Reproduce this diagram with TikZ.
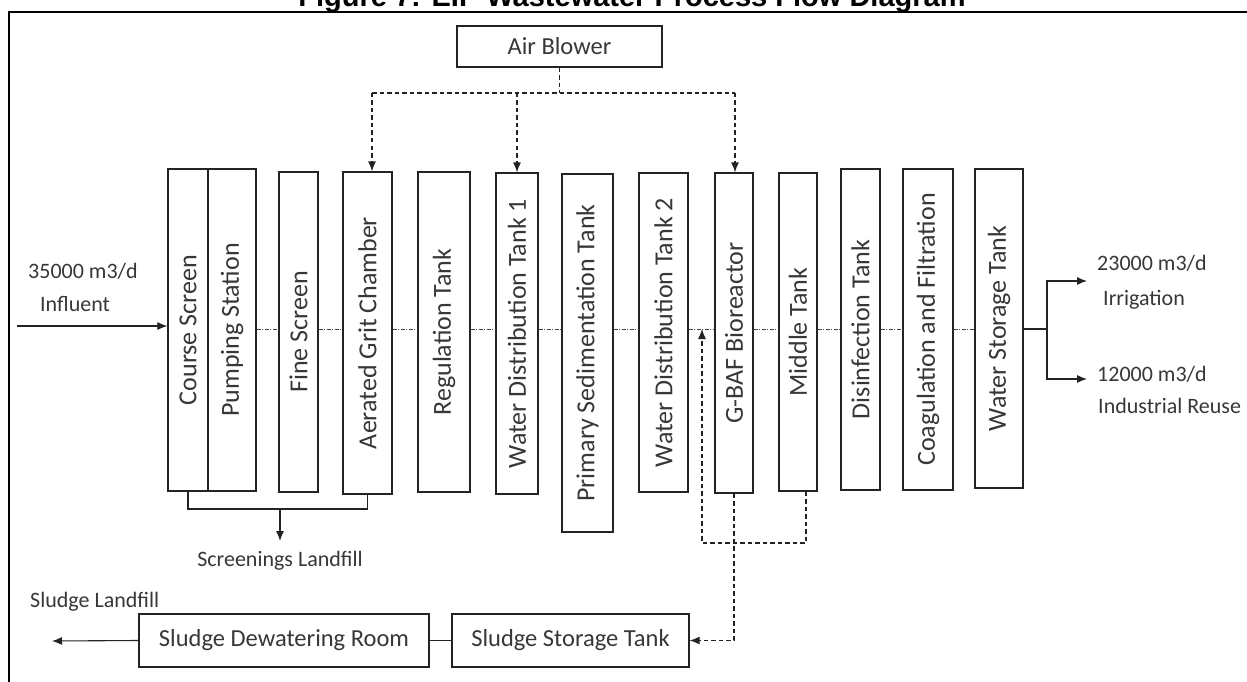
\documentclass[tikz,border=0pt]{standalone}
\usepackage{fontspec}
\setmainfont{Carlito}
\newfontfamily\headfont{Liberation Sans}
\usetikzlibrary{arrows.meta}
\definecolor{ink}{RGB}{35,35,35}
\definecolor{txt}{RGB}{55,55,55}
\begin{document}
\begin{tikzpicture}[x=1pt,y=-1pt,
  tank/.style={draw=ink, line width=1.2pt, inner sep=0pt, text=txt, font=\fontsize{26}{30}\selectfont},
  unit/.style={draw=ink, line width=1.2pt, inner sep=0pt, text=txt, font=\fontsize{24.5}{28}\selectfont},
  free/.style={text=txt, inner sep=0pt, font=\fontsize{22}{26}\selectfont},
  flow/.style={draw=ink!85, line width=1pt, dash pattern=on 4pt off 1.5pt on 1pt off 1.5pt},
  pipe/.style={draw=ink, line width=1.1pt},
  air/.style={draw=ink, line width=1.2pt, dash pattern=on 4.5pt off 3pt},
  tip/.style={-{Latex[length=10pt,width=8pt]}},
]
\useasboundingbox (0,0) rectangle (1247,682);
\clip (0,0) rectangle (1247,682);
\fill[white] (0,0) rectangle (1247,682);

% heading, partly outside the page
\node[anchor=base, inner sep=0pt, font=\headfont\bfseries\fontsize{29}{32}\selectfont] (title) at (632,7) {Figure 7: EIP Wastewater Process Flow Diagram};
% frame
\draw[line width=2pt] (9,720) -- (9,12) -- (1280,12);

% treatment units
\node[tank, minimum width=40pt, minimum height=322pt] (cs)  at (188,330)   {\rotatebox{90}{Course Screen}};
\node[tank, minimum width=48pt, minimum height=322pt] (ps)  at (232,330)   {\rotatebox{90}{Pumping Station}};
\node[tank, minimum width=39pt, minimum height=320pt] (fs)  at (298.5,332) {\rotatebox{90}{Fine Screen}};
\node[tank, minimum width=49pt, minimum height=322pt] (ag)  at (367.5,333) {\rotatebox{90}{Aerated Grit Chamber}};
\node[tank, minimum width=52pt, minimum height=320pt] (rt)  at (444,332)   {\rotatebox{90}{Regulation Tank}};
\node[tank, minimum width=42pt, minimum height=321pt] (wd1) at (517,333.5) {\rotatebox{90}{Water Distribution Tank 1}};
\node[tank, minimum width=51pt, minimum height=358pt] (pst) at (587.5,353) {\rotatebox{90}{Primary Sedimentation Tank}};
\node[tank, minimum width=49pt, minimum height=319pt] (wd2) at (663.5,332.5) {\rotatebox{90}{Water Distribution Tank 2}};
\node[tank, minimum width=38pt, minimum height=320pt] (gb)  at (734,333)   {\rotatebox{90}{G-BAF Bioreactor}};
\node[tank, minimum width=38pt, minimum height=318pt] (mt)  at (798,332)   {\rotatebox{90}{Middle Tank}};
\node[tank, minimum width=39pt, minimum height=321pt] (dt)  at (860.5,329.5) {\rotatebox{90}{Disinfection Tank}};
\node[tank, minimum width=50pt, minimum height=321pt] (cf)  at (928,329.5) {\rotatebox{90}{Coagulation and Filtration}};
\node[tank, minimum width=48pt, minimum height=319pt] (ws)  at (999,328.5) {\rotatebox{90}{Water Storage Tank}};

\node[unit, minimum width=205pt, minimum height=41pt] (ab)  at (559.5,46.5) {Air Blower};
\node[unit, minimum width=290pt, minimum height=53pt] (sdr) at (284,640.5)  {Sludge Dewatering Room};
\node[unit, minimum width=237pt, minimum height=53pt] (sst) at (570.5,640.5) {Sludge Storage Tank};

% free labels
\node[free, anchor=base west] (qin)  at (28,278)   {35000 m3/d};
\node[free, anchor=base west] (lin)  at (40,311)   {Influent};
\node[free, anchor=base west] (qirr) at (1097,270) {23000 m3/d};
\node[free, anchor=base west] (lirr) at (1103,305) {Irrigation};
\node[free, anchor=base west] (qind) at (1097,381) {12000 m3/d};
\node[free, anchor=base west] (lind) at (1098,413) {Industrial Reuse};
\node[free, anchor=base]      (scr)  at (280,566)  {Screenings Landfill};
\node[free, anchor=base west] (sl)   at (30,607)   {Sludge Landfill};

% helper points
\coordinate (main)  at (0,329);
\coordinate (inlet) at (17,326);
\coordinate (split) at (1047,329);
\coordinate (irr)   at (1087,281);
\coordinate (ind)   at (1087,379);
\coordinate (brk)   at (280,509);
\coordinate (scrtip) at (280,541);
\coordinate (busL)  at (372,93);
\coordinate (busR)  at (735,93);
\coordinate (rcR)   at (806,543);
\coordinate (rcL)   at (702,543);
\coordinate (sltip) at (52,641);

% influent
\draw[pipe, tip] (inlet) -- (cs.west |- inlet);

% main water line
\draw[flow] (ps.east |- main) -- (fs.west |- main);
\draw[flow] (fs.east |- main) -- (ag.west |- main);
\draw[flow] (ag.east |- main) -- (rt.west |- main);
\draw[flow] (rt.east |- main) -- (wd1.west |- main);
\draw[flow] (wd1.east |- main) -- (pst.west |- main);
\draw[flow] (pst.east |- main) -- (wd2.west |- main);
\draw[flow] (wd2.east |- main) -- (gb.west |- main);
\draw[flow] (gb.east |- main) -- (mt.west |- main);
\draw[flow] (mt.east |- main) -- (dt.west |- main);
\draw[flow] (dt.east |- main) -- (cf.west |- main);
\draw[flow] (cf.east |- main) -- (ws.west |- main);

% effluent split
\draw[pipe] (ws.east |- split) -- (split);
\draw[pipe, tip] (split) |- (irr);
\draw[pipe, tip] (split) |- (ind);

% screenings
\draw[pipe] (cs.south) |- (brk) -| (ag.south);
\draw[pipe, tip] (brk) -- (scrtip);

% aeration
\draw[air] (ab.south) -- (ab.south |- busL);
\draw[air] (busL) -- (busR);
\draw[air, tip] (busL) -- (busL |- ag.north);
\draw[air, tip] (wd1.north |- busL) -- (wd1.north);
\draw[air, tip] (busR) -- (busR |- gb.north);

% return from middle tank
\draw[air, tip] (rcR |- mt.south) -- (rcR) -- (rcL) -- (rcL |- main);

% sludge line
\draw[air, tip] (gb.south) |- (sst.east);
\draw[pipe] (sst.west) -- (sdr.west -| sdr.east);
\draw[pipe, tip] (sdr.west) -- (sltip);
\end{tikzpicture}
\end{document}
